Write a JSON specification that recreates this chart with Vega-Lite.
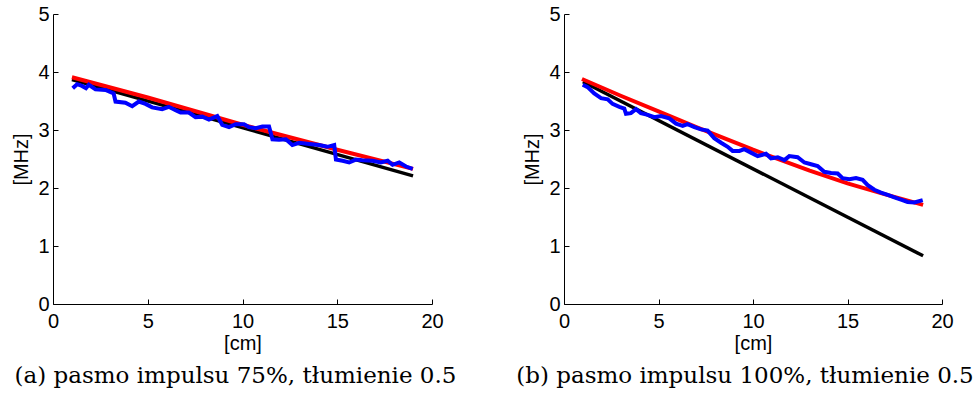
{
  "$schema": "https://vega.github.io/schema/vega-lite/v6.json",
  "padding": {"left": 11, "top": 4, "right": 5, "bottom": 2},
  "spacing": 132,
  "bounds": "flush",
  "config": {
    "font": "Liberation Sans",
    "view": {"stroke": null},
    "axis": {
      "grid": false,
      "domainColor": "black",
      "tickColor": "black",
      "labelColor": "black",
      "titleColor": "black",
      "labelFont": "Liberation Sans",
      "titleFont": "Liberation Sans",
      "labelFontSize": 20,
      "titleFontSize": 20,
      "titleFontWeight": "normal",
      "tickSize": -5,
      "domainWidth": 1,
      "tickWidth": 1,
      "labelFlush": false,
      "labelOverlap": false
    },
    "axisX": {"labelPadding": 12, "titlePadding": 2},
    "axisY": {"labelPadding": 9, "titlePadding": 6},
    "title": {"font": "DejaVu Serif", "fontSize": 23, "fontWeight": "normal", "color": "black", "orient": "bottom", "anchor": "middle", "frame": "group", "offset": 12}
  },
  "data": {"values": [
    {"p":"a","s":"black","x":1,"y":3.87},{"p":"a","s":"black","x":19,"y":2.21},
    {"p":"a","s":"red","x":1,"y":3.91},{"p":"a","s":"red","x":5,"y":3.56},{"p":"a","s":"red","x":10,"y":3.09},{"p":"a","s":"red","x":15,"y":2.66},{"p":"a","s":"red","x":19,"y":2.33},
    {"p":"a","s":"blue","x":1.04,"y":3.72},{"p":"a","s":"blue","x":1.27,"y":3.79},{"p":"a","s":"blue","x":1.53,"y":3.76},{"p":"a","s":"blue","x":1.74,"y":3.72},{"p":"a","s":"blue","x":1.89,"y":3.78},{"p":"a","s":"blue","x":2.24,"y":3.70},{"p":"a","s":"blue","x":2.77,"y":3.69},{"p":"a","s":"blue","x":3.2,"y":3.63},{"p":"a","s":"blue","x":3.30,"y":3.49},{"p":"a","s":"blue","x":3.82,"y":3.47},{"p":"a","s":"blue","x":4.18,"y":3.41},{"p":"a","s":"blue","x":4.53,"y":3.49},{"p":"a","s":"blue","x":4.88,"y":3.45},{"p":"a","s":"blue","x":5.23,"y":3.39},{"p":"a","s":"blue","x":5.76,"y":3.36},{"p":"a","s":"blue","x":6.11,"y":3.40},{"p":"a","s":"blue","x":6.47,"y":3.34},{"p":"a","s":"blue","x":6.73,"y":3.30},{"p":"a","s":"blue","x":7.17,"y":3.30},{"p":"a","s":"blue","x":7.52,"y":3.22},{"p":"a","s":"blue","x":7.88,"y":3.23},{"p":"a","s":"blue","x":8.23,"y":3.18},{"p":"a","s":"blue","x":8.67,"y":3.24},{"p":"a","s":"blue","x":8.93,"y":3.09},{"p":"a","s":"blue","x":9.29,"y":3.05},{"p":"a","s":"blue","x":9.64,"y":3.10},{"p":"a","s":"blue","x":10.08,"y":3.10},{"p":"a","s":"blue","x":10.34,"y":3.05},{"p":"a","s":"blue","x":10.70,"y":3.03},{"p":"a","s":"blue","x":11.05,"y":3.06},{"p":"a","s":"blue","x":11.40,"y":3.06},{"p":"a","s":"blue","x":11.58,"y":2.84},{"p":"a","s":"blue","x":11.93,"y":2.83},{"p":"a","s":"blue","x":12.29,"y":2.84},{"p":"a","s":"blue","x":12.63,"y":2.74},{"p":"a","s":"blue","x":12.99,"y":2.78},{"p":"a","s":"blue","x":13.52,"y":2.76},{"p":"a","s":"blue","x":14.04,"y":2.74},{"p":"a","s":"blue","x":14.48,"y":2.71},{"p":"a","s":"blue","x":14.84,"y":2.74},{"p":"a","s":"blue","x":14.93,"y":2.49},{"p":"a","s":"blue","x":15.28,"y":2.47},{"p":"a","s":"blue","x":15.63,"y":2.44},{"p":"a","s":"blue","x":15.98,"y":2.49},{"p":"a","s":"blue","x":16.33,"y":2.48},{"p":"a","s":"blue","x":16.86,"y":2.47},{"p":"a","s":"blue","x":17.30,"y":2.44},{"p":"a","s":"blue","x":17.66,"y":2.47},{"p":"a","s":"blue","x":17.92,"y":2.40},{"p":"a","s":"blue","x":18.27,"y":2.44},{"p":"a","s":"blue","x":18.63,"y":2.37},{"p":"a","s":"blue","x":18.98,"y":2.33},
    {"p":"b","s":"black","x":1,"y":3.83},{"p":"b","s":"black","x":19,"y":0.83},
    {"p":"b","s":"red","x":0.95,"y":3.88},{"p":"b","s":"red","x":3,"y":3.59},{"p":"b","s":"red","x":5,"y":3.32},{"p":"b","s":"red","x":7,"y":3.05},{"p":"b","s":"red","x":10,"y":2.66},{"p":"b","s":"red","x":13,"y":2.30},{"p":"b","s":"red","x":15,"y":2.08},{"p":"b","s":"red","x":17,"y":1.89},{"p":"b","s":"red","x":19,"y":1.71},
    {"p":"b","s":"blue","x":0.99,"y":3.78},{"p":"b","s":"blue","x":1.25,"y":3.74},{"p":"b","s":"blue","x":1.60,"y":3.63},{"p":"b","s":"blue","x":1.96,"y":3.55},{"p":"b","s":"blue","x":2.31,"y":3.53},{"p":"b","s":"blue","x":2.57,"y":3.45},{"p":"b","s":"blue","x":2.93,"y":3.40},{"p":"b","s":"blue","x":3.19,"y":3.37},{"p":"b","s":"blue","x":3.28,"y":3.28},{"p":"b","s":"blue","x":3.54,"y":3.29},{"p":"b","s":"blue","x":3.81,"y":3.36},{"p":"b","s":"blue","x":4.07,"y":3.29},{"p":"b","s":"blue","x":4.43,"y":3.26},{"p":"b","s":"blue","x":4.78,"y":3.22},{"p":"b","s":"blue","x":5.13,"y":3.24},{"p":"b","s":"blue","x":5.57,"y":3.20},{"p":"b","s":"blue","x":5.93,"y":3.11},{"p":"b","s":"blue","x":6.28,"y":3.07},{"p":"b","s":"blue","x":6.54,"y":3.10},{"p":"b","s":"blue","x":6.90,"y":3.05},{"p":"b","s":"blue","x":7.25,"y":3.01},{"p":"b","s":"blue","x":7.60,"y":2.99},{"p":"b","s":"blue","x":7.95,"y":2.86},{"p":"b","s":"blue","x":8.31,"y":2.78},{"p":"b","s":"blue","x":8.66,"y":2.71},{"p":"b","s":"blue","x":8.92,"y":2.64},{"p":"b","s":"blue","x":9.28,"y":2.64},{"p":"b","s":"blue","x":9.54,"y":2.67},{"p":"b","s":"blue","x":9.89,"y":2.61},{"p":"b","s":"blue","x":10.25,"y":2.55},{"p":"b","s":"blue","x":10.69,"y":2.59},{"p":"b","s":"blue","x":10.95,"y":2.51},{"p":"b","s":"blue","x":11.31,"y":2.53},{"p":"b","s":"blue","x":11.66,"y":2.48},{"p":"b","s":"blue","x":11.92,"y":2.55},{"p":"b","s":"blue","x":12.36,"y":2.53},{"p":"b","s":"blue","x":12.72,"y":2.44},{"p":"b","s":"blue","x":13.07,"y":2.41},{"p":"b","s":"blue","x":13.42,"y":2.38},{"p":"b","s":"blue","x":13.77,"y":2.28},{"p":"b","s":"blue","x":14.13,"y":2.26},{"p":"b","s":"blue","x":14.48,"y":2.25},{"p":"b","s":"blue","x":14.74,"y":2.17},{"p":"b","s":"blue","x":15.10,"y":2.15},{"p":"b","s":"blue","x":15.45,"y":2.17},{"p":"b","s":"blue","x":15.80,"y":2.14},{"p":"b","s":"blue","x":16.07,"y":2.05},{"p":"b","s":"blue","x":16.42,"y":1.97},{"p":"b","s":"blue","x":16.77,"y":1.92},{"p":"b","s":"blue","x":17.13,"y":1.88},{"p":"b","s":"blue","x":17.48,"y":1.84},{"p":"b","s":"blue","x":17.83,"y":1.80},{"p":"b","s":"blue","x":18.18,"y":1.76},{"p":"b","s":"blue","x":18.54,"y":1.75},{"p":"b","s":"blue","x":18.98,"y":1.79}
  ]},
  "hconcat": [
    {
      "width": 379,
      "height": 290,
      "title": {"text": "(a) pasmo impulsu 75%, tłumienie 0.5", "dx": -7},
      "transform": [{"filter": "datum.p === 'a'"}],
      "encoding": {
        "x": {"field": "x", "type": "quantitative", "scale": {"domain": [0, 20], "nice": false}, "axis": {"values": [0, 5, 10, 15, 20], "title": "[cm]"}},
        "y": {"field": "y", "type": "quantitative", "scale": {"domain": [0, 5], "nice": false}, "axis": {"values": [0, 1, 2, 3, 4, 5], "title": "[MHz]"}}
      },
      "layer": [
        {"transform": [{"filter": "datum.s === 'black'"}], "mark": {"type": "line", "color": "black", "strokeWidth": 3.4}},
        {"transform": [{"filter": "datum.s === 'red'"}], "mark": {"type": "line", "color": "#ff0000", "strokeWidth": 4}},
        {"transform": [{"filter": "datum.s === 'blue'"}], "mark": {"type": "line", "color": "#0000ff", "strokeWidth": 4}}
      ]
    },
    {
      "width": 378,
      "height": 290,
      "title": {"text": "(b) pasmo impulsu 100%, tłumienie 0.5", "dx": -8},
      "transform": [{"filter": "datum.p === 'b'"}],
      "encoding": {
        "x": {"field": "x", "type": "quantitative", "scale": {"domain": [0, 20], "nice": false}, "axis": {"values": [0, 5, 10, 15, 20], "title": "[cm]"}},
        "y": {"field": "y", "type": "quantitative", "scale": {"domain": [0, 5], "nice": false}, "axis": {"values": [0, 1, 2, 3, 4, 5], "title": "[MHz]"}}
      },
      "layer": [
        {"transform": [{"filter": "datum.s === 'black'"}], "mark": {"type": "line", "color": "black", "strokeWidth": 3.4}},
        {"transform": [{"filter": "datum.s === 'red'"}], "mark": {"type": "line", "color": "#ff0000", "strokeWidth": 4}},
        {"transform": [{"filter": "datum.s === 'blue'"}], "mark": {"type": "line", "color": "#0000ff", "strokeWidth": 4}}
      ]
    }
  ]
}
